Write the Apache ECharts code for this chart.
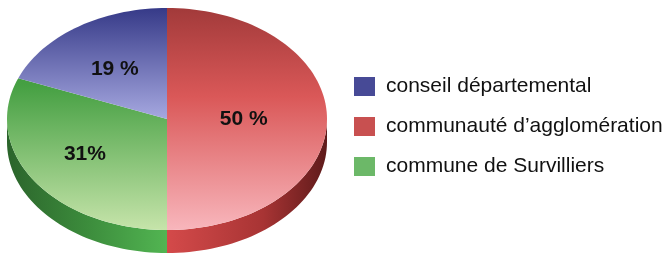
<!DOCTYPE html>
<html>
<head>
<meta charset="utf-8">
<script src="https://cdn.jsdelivr.net/npm/echarts@6/dist/echarts.min.js"></script>
<style>
  html, body { margin: 0; padding: 0; background: #fff; }
  #chart { width: 668px; height: 255px; }
</style>
</head>
<body>
<div id="chart"></div>
<script>
// slices, in drawing order (clockwise from 12 o'clock)
var categories = ['communauté d’agglomération', 'commune de Survilliers', 'conseil départemental'];
var values = [50, 31, 19];
var labels = ['50 %', '31%', '19 %'];
var legendOrder = ['conseil départemental', 'communauté d’agglomération', 'commune de Survilliers'];

var total = values.reduce(function (a, b) { return a + b; }, 0);

// ellipse geometry of the tilted pie
var cx = 167, cy = 119, rx = 160, ry = 111, depth = 23;

var looks = [
  { // rouge
    legend: '#c85050',
    top: [[0, '#a23a3a'], [0.4, '#da5858'], [1, '#f8b6bc']],
    side: [[0.5, '#d44a4a'], [0.8, '#a83434'], [1, '#5e1a1a']],
    lab: 0.48, labDy: 0
  },
  { // vert
    legend: '#6cb868',
    top: [[0, '#2e8a2e'], [0.35, '#46a043'], [1, '#c6e4aa']],
    side: [[0, '#2b642b'], [0.25, '#3c8c3c'], [0.5, '#52b552']],
    lab: 0.62, labDy: -3
  },
  { // bleu
    legend: '#474a96',
    top: [[0, '#363a88'], [0.5, '#a6a8e0'], [1, '#a6a8e0']],
    side: [[0, '#30346e'], [1, '#30346e']],
    lab: 0.58, labDy: 3
  }
];

function pt(a, dy) {
  var r = a * Math.PI / 180;
  return [cx + rx * Math.cos(r), cy - ry * Math.sin(r) + (dy || 0)];
}

function arc(a0, a1, dy) {
  var pts = [];
  var n = Math.max(2, Math.ceil(Math.abs(a1 - a0) / 2));
  for (var k = 0; k <= n; k++) {
    pts.push(pt(a0 + (a1 - a0) * k / n, dy));
  }
  return pts;
}

function drawSlice(i, api) {
  var v = api.value(0);
  var before = 0;
  for (var j = 0; j < i; j++) before += values[j];
  var start = 90 - 360 * before / total;
  var end = start - 360 * v / total;
  var look = looks[i];
  var children = [];

  // côté visible (moitié basse : -180..0)
  var s0 = Math.min(start, 0), s1 = Math.max(end, -180);
  if (s0 > s1) {
    var upper = arc(s0, s1, 0);
    var lower = arc(s1, s0, depth);
    children.push({
      type: 'polygon',
      shape: { points: upper.concat(lower) },
      style: {
        fill: new echarts.graphic.LinearGradient(cx - rx, 0, cx + rx, 0,
          look.side.map(function (s) { return { offset: s[0], color: s[1] }; }), true)
      }
    });
  }

  // dessus
  children.push({
    type: 'polygon',
    shape: { points: [[cx, cy]].concat(arc(start, end, 0)) },
    style: {
      fill: new echarts.graphic.LinearGradient(0, cy - ry, 0, cy + ry,
        look.top.map(function (s) { return { offset: s[0], color: s[1] }; }), true)
    }
  });

  // étiquette
  var mid = (start + end) / 2;
  var r = mid * Math.PI / 180;
  children.push({
    type: 'text',
    style: {
      text: labels[i],
      x: cx + rx * look.lab * Math.cos(r),
      y: cy - ry * look.lab * Math.sin(r) + look.labDy,
      fill: '#111',
      font: 'bold 21px "Liberation Sans", Arial, sans-serif',
      align: 'center',
      verticalAlign: 'middle'
    }
  });

  return { type: 'group', children: children };
}

var chart = echarts.init(document.getElementById('chart'));

var option = {
  animation: false,
  legend: {
    data: legendOrder,
    orient: 'vertical',
    left: 349,
    top: 71,
    icon: 'rect',
    itemWidth: 21,
    itemHeight: 19,
    itemGap: 19,
    selectedMode: false,
    textStyle: {
      fontFamily: '"Liberation Sans", Arial, sans-serif',
      fontSize: 21,
      lineHeight: 19,
      color: '#111',
      padding: [0, 0, 0, 6]
    }
  },
  series: categories.map(function (name, i) {
    return {
      type: 'custom',
      name: name,
      coordinateSystem: 'none',
      data: [values[i]],
      itemStyle: { color: looks[i].legend },
      renderItem: function (params, api) { return drawSlice(i, api); }
    };
  })
};

chart.setOption(option);
</script>
</body>
</html>
